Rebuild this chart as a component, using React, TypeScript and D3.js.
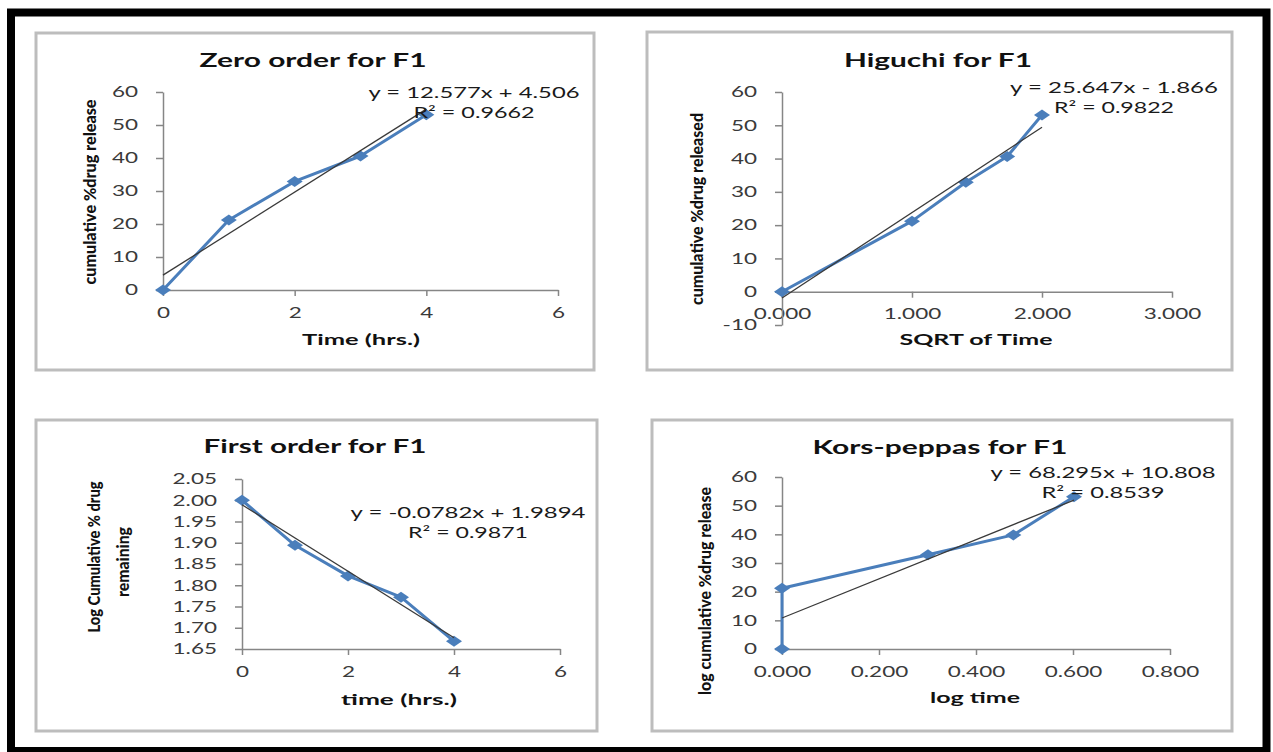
import { useEffect, useRef } from 'react'
import * as d3 from 'd3'

const WIDTH = 1273
const HEIGHT = 752
const BLUE = '#4A7EBB'
const AXIS = '#868686'
const FONT = 'Lato, "Open Sans", sans-serif'
const SX = 1.5 // source picture is stretched sideways

// ── Zero order ───────────────────────────────────────────────────────────────
const zeroTime = [0, 1, 2, 3, 4]
const zeroRelease = [0, 21.2, 32.9, 40.6, 53.1]
const zeroTrend = [12.577, 4.506]
const zeroEquation = ['y = 12.577x + 4.506', 'R² = 0.9662']
const zeroXTicks = [0, 2, 4, 6]
const zeroYTicks = [0, 10, 20, 30, 40, 50, 60]

// ── Higuchi ──────────────────────────────────────────────────────────────────
const sqrtTime = [0, 1, 1.414, 1.732, 2]
const higuchiRelease = [0, 21.2, 32.9, 40.6, 53.1]
const higuchiTrend = [25.647, -1.866]
const higuchiEquation = ['y = 25.647x - 1.866', 'R² = 0.9822']
const higuchiXTicks = [0, 1, 2, 3]
const higuchiYTicks = [-10, 0, 10, 20, 30, 40, 50, 60]

// ── First order ──────────────────────────────────────────────────────────────
const firstTime = [0, 1, 2, 3, 4]
const logRemaining = [2.0, 1.894, 1.822, 1.772, 1.668]
const firstTrend = [-0.0782, 1.9894]
const firstEquation = ['y = -0.0782x + 1.9894', 'R² = 0.9871']
const firstXTicks = [0, 2, 4, 6]
const firstYTicks = [1.65, 1.7, 1.75, 1.8, 1.85, 1.9, 1.95, 2.0, 2.05]

// ── Korsmeyer-Peppas ─────────────────────────────────────────────────────────
const logTime = [0, 0, 0.301, 0.477, 0.602]
const kpRelease = [0, 21.2, 32.9, 39.8, 53.1]
const kpTrend = [68.295, 10.808]
const kpEquation = ['y = 68.295x + 10.808', 'R² = 0.8539']
const kpXTicks = [0, 0.2, 0.4, 0.6, 0.8]
const kpYTicks = [0, 10, 20, 30, 40, 50, 60]

const plain = (d: d3.NumberValue) => String(d)

const panels = [
  {
    title: 'Zero order for F1', xLabel: 'Time (hrs.)', yLabel: ['cumulative %drug release'],
    xs: zeroTime, ys: zeroRelease, trend: zeroTrend, equation: zeroEquation,
    xTicks: zeroXTicks, yTicks: zeroYTicks, xFmt: plain, yFmt: plain,
    box: [36, 33, 558, 337], xRange: [163, 558], yRange: [290, 92],
    titlePos: [313, 60, 227], xLabelPos: [361, 340, 118], yLabelPos: [[90, 192, 185]],
    eqPos: [474, 93, 211, 121],
  },
  {
    title: 'Higuchi for F1', xLabel: 'SQRT of Time', yLabel: ['cumulative %drug released'],
    xs: sqrtTime, ys: higuchiRelease, trend: higuchiTrend, equation: higuchiEquation,
    xTicks: higuchiXTicks, yTicks: higuchiYTicks, xFmt: d3.format('.3f'), yFmt: plain,
    box: [647, 32, 585, 338], xRange: [782, 1172], yRange: [325, 92],
    titlePos: [938, 60, 188], xLabelPos: [976, 340, 153], yLabelPos: [[697, 209, 192]],
    eqPos: [1114, 88, 208, 120],
  },
  {
    title: 'First order for F1', xLabel: 'time (hrs.)', yLabel: ['Log Cumulative % drug', 'remaining'],
    xs: firstTime, ys: logRemaining, trend: firstTrend, equation: firstEquation,
    xTicks: firstXTicks, yTicks: firstYTicks, xFmt: plain, yFmt: d3.format('.2f'),
    box: [36, 420, 561, 311], xRange: [242, 560], yRange: [649, 479],
    titlePos: [315, 446, 223], xLabelPos: [399, 700, 116], yLabelPos: [[94, 557, 151], [123, 562, 70]],
    eqPos: [468, 513, 235, 120],
  },
  {
    title: 'Kors-peppas for F1', xLabel: 'log time', yLabel: ['log cumulative %drug release'],
    xs: logTime, ys: kpRelease, trend: kpTrend, equation: kpEquation,
    xTicks: kpXTicks, yTicks: kpYTicks, xFmt: d3.format('.3f'), yFmt: plain,
    box: [652, 420, 580, 311], xRange: [782, 1170], yRange: [649, 477],
    titlePos: [940, 447, 255], xLabelPos: [975, 698, 90], yLabelPos: [[705, 591, 208]],
    eqPos: [1103, 473, 225, 123],
  },
]

export default function App() {
  const svgRef = useRef<SVGSVGElement>(null)

  useEffect(() => {
    const svg = d3.select(svgRef.current!)
    svg.selectAll('*').remove()

    svg.append('rect').attr('width', WIDTH).attr('height', HEIGHT).attr('fill', '#fff')

    // thick black frame round the figure
    svg.append('rect')
      .attr('x', 11).attr('y', 12.5).attr('width', 1255.5).attr('height', 738.5)
      .attr('fill', 'none').attr('stroke', '#000').attr('stroke-width', 8)

    panels.forEach(p => {
      const g = svg.append('g')

      // ── Chart area box ─────────────────────────────────────────────────────
      g.append('rect')
        .attr('x', p.box[0]).attr('y', p.box[1]).attr('width', p.box[2]).attr('height', p.box[3])
        .attr('fill', '#fff').attr('stroke', '#BDBDBD').attr('stroke-width', 3)

      // ── Scales ────────────────────────────────────────────────────────────
      const xDomain = [p.xTicks[0], p.xTicks[p.xTicks.length - 1]]
      const yDomain = [p.yTicks[0], p.yTicks[p.yTicks.length - 1]]
      const x = d3.scaleLinear(xDomain, p.xRange)
      const y = d3.scaleLinear(yDomain, p.yRange)
      const cross = yDomain[0] <= 0 && yDomain[1] >= 0 ? 0 : yDomain[0]

      // ── Axes ──────────────────────────────────────────────────────────────
      g.append('g')
        .attr('transform', `translate(0,${y(cross)})`)
        .call(d3.axisBottom(x).tickValues(p.xTicks).tickFormat(p.xFmt).tickSize(6).tickSizeOuter(0).tickPadding(11))
        .call(ag => ag.select('.domain').attr('stroke', AXIS).attr('stroke-width', 1.5))
        .call(ag => ag.selectAll('.tick line').attr('stroke', AXIS).attr('stroke-width', 1.5))
        .call(ag => ag.selectAll('text')
          .attr('fill', '#3A3A3A').attr('font-size', 15).attr('font-family', FONT)
          .attr('transform', `scale(${SX},1)`))

      g.append('g')
        .attr('transform', `translate(${p.xRange[0]},0)`)
        .call(d3.axisLeft(y).tickValues(p.yTicks).tickFormat(p.yFmt).tickSize(7).tickSizeOuter(0))
        .call(ag => ag.select('.domain').attr('stroke', AXIS).attr('stroke-width', 1.5))
        .call(ag => ag.selectAll('.tick line').attr('stroke', AXIS).attr('stroke-width', 1.5))
        .call(ag => ag.selectAll('text')
          .attr('fill', '#3A3A3A').attr('font-size', 15).attr('font-family', FONT)
          .attr('x', -25 / SX).attr('transform', `scale(${SX},1)`))

      // ── Series ────────────────────────────────────────────────────────────
      const pts = p.xs.map((v, i) => [v, p.ys[i]] as [number, number])
      const line = d3.line<[number, number]>().x(d => x(d[0])).y(d => y(d[1]))

      g.append('path')
        .datum(pts)
        .attr('d', line)
        .attr('fill', 'none').attr('stroke', BLUE).attr('stroke-width', 3)
        .attr('stroke-linejoin', 'round')

      g.selectAll('.marker')
        .data(pts)
        .join('path')
        .attr('class', 'marker')
        .attr('transform', d => `translate(${x(d[0])},${y(d[1])})`)
        .attr('d', 'M0,-5.5L8,0L0,5.5L-8,0Z')
        .attr('fill', BLUE)

      // ── Linear trendline ──────────────────────────────────────────────────
      const [x0, x1] = d3.extent(p.xs) as [number, number]
      const fit = [x0, x1].map(v => [v, p.trend[0] * v + p.trend[1]] as [number, number])
      g.append('path')
        .datum(fit)
        .attr('d', line)
        .attr('fill', 'none').attr('stroke', '#3A3A3A').attr('stroke-width', 1.3)

      // ── Texts ─────────────────────────────────────────────────────────────
      g.append('text')
        .attr('x', p.titlePos[0]).attr('y', p.titlePos[1]).attr('dy', '0.35em')
        .attr('text-anchor', 'middle').attr('font-family', FONT).attr('font-weight', 700)
        .attr('font-size', 19).attr('fill', '#111')
        .attr('textLength', p.titlePos[2]).attr('lengthAdjust', 'spacingAndGlyphs')
        .text(p.title)

      g.append('text')
        .attr('x', p.xLabelPos[0]).attr('y', p.xLabelPos[1]).attr('dy', '0.35em')
        .attr('text-anchor', 'middle').attr('font-family', FONT).attr('font-weight', 700)
        .attr('font-size', 15).attr('fill', '#111')
        .attr('textLength', p.xLabelPos[2]).attr('lengthAdjust', 'spacingAndGlyphs')
        .text(p.xLabel)

      p.yLabel.forEach((label, i) => {
        const [lx, ly, len] = p.yLabelPos[i]
        g.append('text')
          .attr('transform', `translate(${lx},${ly}) rotate(-90)`)
          .attr('dy', '0.35em')
          .attr('text-anchor', 'middle').attr('font-family', FONT).attr('font-weight', 900)
          .attr('font-size', 17).attr('fill', '#111')
          .attr('textLength', len).attr('lengthAdjust', 'spacingAndGlyphs')
          .text(label)
      })

      p.equation.forEach((eq, i) => {
        g.append('text')
          .attr('x', p.eqPos[0]).attr('y', p.eqPos[1] + i * 20).attr('dy', '0.35em')
          .attr('text-anchor', 'middle').attr('font-family', FONT)
          .attr('font-size', 15).attr('fill', '#1A1A1A')
          .attr('textLength', p.eqPos[2 + i]).attr('lengthAdjust', 'spacingAndGlyphs')
          .text(eq)
      })
    })
  }, [])

  return (
    <svg
      ref={svgRef}
      width={WIDTH}
      height={HEIGHT}
      style={{ position: 'absolute', left: 0, top: 0 }}
    />
  )
}
